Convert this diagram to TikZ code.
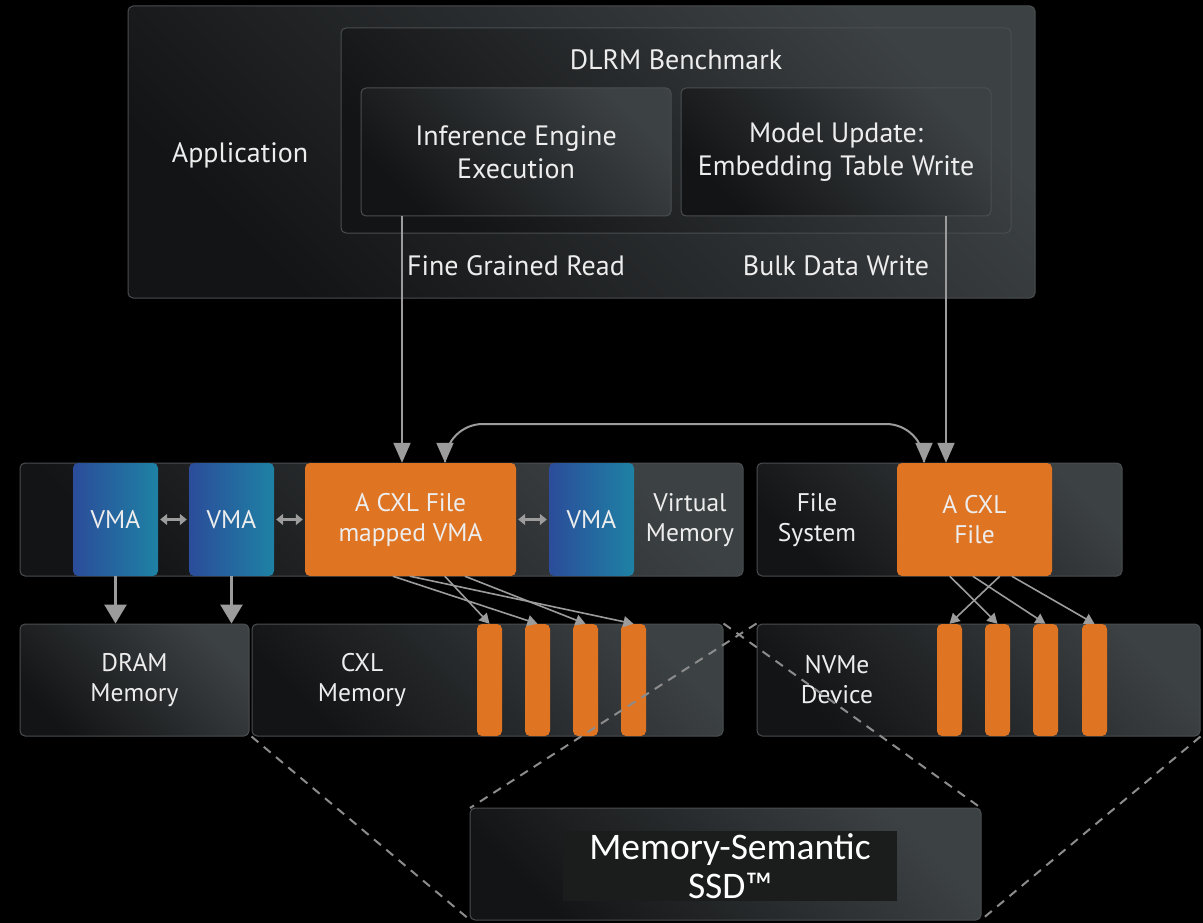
\documentclass[tikz,border=0pt]{standalone}
\usepackage{fontspec}
\setmainfont{PT Sans}
\newfontfamily\calibfont{Carlito}
\usetikzlibrary{arrows.meta,calc}
\definecolor{bgA}{HTML}{131415}
\definecolor{bgB}{HTML}{3C4144}
\definecolor{edgec}{HTML}{4A4E51}
\definecolor{orng}{HTML}{DF7423}
\definecolor{blueA}{HTML}{2B4C9A}
\definecolor{blueB}{HTML}{1E82A4}
\definecolor{arr}{HTML}{9C9C9C}
\definecolor{dashc}{HTML}{8C8C8C}
\definecolor{txt}{HTML}{EDEDED}
\definecolor{ssdin}{HTML}{1B1C1C}
\begin{document}
\begin{tikzpicture}[x=1pt,y=-1pt,
  panel/.style={draw=edgec, line width=1pt, rounded corners=5pt, inner sep=0pt,
    top color=bgB, bottom color=bgA, shading angle=-45},
  vmabox/.style={rounded corners=5pt, inner sep=0pt, left color=blueA, right color=blueB,
    minimum width=85pt, minimum height=113pt, text=txt, font=\fontsize{25.5pt}{30pt}\selectfont},
  orbox/.style={rounded corners=5pt, inner sep=0pt, fill=orng, minimum height=113pt,
    text=txt, align=center, font=\fontsize{25.5pt}{30pt}\selectfont},
  barbox/.style={rounded corners=5pt, inner sep=0pt, fill=orng, minimum width=25pt, minimum height=112pt},
  biglbl/.style={text=txt, align=center, inner sep=0pt, font=\fontsize{28pt}{33pt}\selectfont},
  lbl/.style={text=txt, align=center, inner sep=0pt, font=\fontsize{25.5pt}{30pt}\selectfont},
  bigarrow/.style={draw=arr, line width=2pt, -{Triangle[length=20pt,width=17pt]}},
  fatarrow/.style={draw=arr, line width=3pt, -{Triangle[length=19pt,width=22pt]}},
  thinarrow/.style={draw=arr, line width=1.6pt, -{Triangle[length=10pt,width=11pt]}},
  dblarrow/.style={draw=arr, line width=2.8pt, {Triangle[length=7pt,width=11pt]}-{Triangle[length=7pt,width=11pt]}, shorten <=2pt, shorten >=2pt},
  zoomline/.style={draw=dashc, line width=2pt, dash pattern=on 9pt off 7pt}
]
\fill[black] (0,0) rectangle (1203,923);
\useasboundingbox (0,0) rectangle (1203,923);

% ---------- Application block ----------
\node[panel, minimum width=907pt, minimum height=292pt] (app) at (581.5,152) {};
\node[biglbl] (applbl) at (240,155) {Application};
\node[panel, minimum width=670pt, minimum height=205pt] (dlrm) at (676,130.5) {};
\node[biglbl] (dlrmlbl) at (676,60) {DLRM Benchmark};
\node[panel, minimum width=310pt, minimum height=128pt, biglbl] (inf) at (516,152) {Inference Engine\\Execution};
\node[panel, minimum width=310pt, minimum height=128pt, biglbl] (mod) at (836,152) {Model Update:\\Embedding Table Write};
\node[biglbl] (fgr) at (516,266) {Fine Grained Read};
\node[biglbl] (bdw) at (836,266) {Bulk Data Write};

% ---------- Virtual memory / file system ----------
\node[panel, minimum width=723pt, minimum height=113pt] (vm) at (381.5,519.5) {};
\node[vmabox] (vma1) at (115.5,519.5) {VMA};
\node[vmabox] (vma2) at (231.5,519.5) {VMA};
\node[orbox, minimum width=211pt] (cxlvma) at (410.5,519.5) {A CXL File\\mapped VMA};
\node[vmabox] (vma3) at (591.5,519.5) {VMA};
\node[lbl] (vmlbl) at (690,520) {Virtual\\Memory};

\node[panel, minimum width=365pt, minimum height=113pt] (fs) at (939.5,519.5) {};
\node[lbl] (fslbl) at (817,520) {File\\System};
\node[orbox, minimum width=155pt] (cxlfile) at (974.5,519.5) {A CXL\\File};

% ---------- Devices ----------
\node[panel, minimum width=229pt, minimum height=112pt, lbl] (dram) at (134.5,680) {DRAM\\Memory};
\node[panel, minimum width=471pt, minimum height=112pt] (cxlmem) at (487.5,680) {};
\node[lbl] (cxllbl) at (362,680) {CXL\\Memory};
\node[panel, minimum width=443pt, minimum height=112pt] (nvme) at (978.5,680) {};
\node[lbl] (nvmelbl) at (837,680) {NVMe\\Device};

\node[barbox] (cb1) at (489.5,680) {};
\node[barbox] (cb2) at (537.5,680) {};
\node[barbox] (cb3) at (585.5,680) {};
\node[barbox] (cb4) at (633.5,680) {};
\node[barbox] (nb1) at (949.5,680) {};
\node[barbox] (nb2) at (997.5,680) {};
\node[barbox] (nb3) at (1045.5,680) {};
\node[barbox] (nb4) at (1094.5,680) {};

% ---------- Connectors ----------
\coordinate (xr) at (402,0);
\coordinate (xw) at (946,0);
\coordinate (xl) at (445,0);
\coordinate (xf) at (924,0);
\coordinate (ytop) at (0,424);
\draw[bigarrow] (inf.south -| xr) -- (cxlvma.north -| xr);
\draw[bigarrow] (mod.south -| xw) -- (cxlfile.north -| xw);
\draw[draw=arr, line width=2pt, {Triangle[length=20pt,width=17pt]}-{Triangle[length=20pt,width=17pt]}, rounded corners=38pt]
  (cxlvma.north -| xl) |- (ytop -| xf) -- (cxlfile.north -| xf);

\draw[dblarrow] (vma1.east) -- (vma2.west);
\draw[dblarrow] (vma2.east) -- (cxlvma.west);
\draw[dblarrow] (cxlvma.east) -- (vma3.west);

\draw[fatarrow] (vma1.south) -- (dram.north -| vma1.south);
\draw[fatarrow] (vma2.south) -- (dram.north -| vma2.south);

\draw[thinarrow] ($(cxlvma.south west)+(88,0)$) -- (cb2.north);
\draw[thinarrow] ($(cxlvma.south west)+(105,0)$) -- (cb4.north);
\draw[thinarrow] ($(cxlvma.south west)+(140,0)$) -- (cb1.north);
\draw[thinarrow] ($(cxlvma.south west)+(160,0)$) -- (cb3.north);

\draw[thinarrow] ($(cxlfile.south west)+(53,0)$) -- (nb2.north);
\draw[thinarrow] ($(cxlfile.south west)+(76,0)$) -- (nb3.north);
\draw[thinarrow] ($(cxlfile.south west)+(103,0)$) -- (nb1.north);
\draw[thinarrow] ($(cxlfile.south west)+(115,0)$) -- (nb4.north);

% ---------- Zoom lines and SSD ----------
\coordinate (ssdTL) at (470,808);
\coordinate (ssdTR) at (981,808);
\coordinate (ssdBL) at (470,920);
\coordinate (ssdBR) at (981,920);
\draw[zoomline] (cxlmem.south west) -- (ssdBL);
\draw[zoomline] (cxlmem.north east) -- (ssdTR);
\draw[zoomline] (nvme.north west) -- (ssdTL);
\draw[zoomline] (nvme.south east) -- (ssdBR);

\node[panel, minimum width=511pt, minimum height=112pt] (ssd) at (725.5,864) {};
\node[fill=ssdin, minimum width=334pt, minimum height=70pt, inner sep=0pt, text=white, align=center,
  font=\calibfont\fontsize{37.5pt}{39pt}\selectfont] (ssdlbl) at (730,866) {Memory-Semantic\\SSD™};
\end{tikzpicture}
\end{document}
